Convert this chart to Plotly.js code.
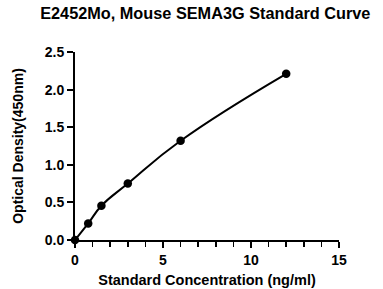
<!DOCTYPE html>
<html><head><meta charset="utf-8">
<script src="https://cdn.plot.ly/plotly-3.0.1.min.js"></script>
<style>html,body{margin:0;padding:0;background:#fff}#c{width:383px;height:289px}</style>
</head><body><div id="c"></div>
<script>
var concentration = [0, 0.75, 1.5, 3, 6, 12];
var od = [0.0, 0.22, 0.455, 0.75, 1.32, 2.21];
var xTicks = [0, 5, 10, 15];
var yTicks = [0, 0.5, 1.0, 1.5, 2.0, 2.5];
var yTickText = ['0.0', '0.5', '1.0', '1.5', '2.0', '2.5'];
var F = 'Liberation Sans, Arial, sans-serif';
var traces = [
  {x: concentration, y: od, mode: 'lines', line: {shape: 'spline', smoothing: 1.3, color: '#000', width: 2}, hoverinfo: 'skip', cliponaxis: false},
  {x: concentration, y: od, mode: 'markers', marker: {color: '#000', size: 8.5}, cliponaxis: false}
];
var layout = {
  width: 383, height: 289,
  margin: {l: 75, r: 44, t: 52, b: 49},
  showlegend: false,
  paper_bgcolor: '#fff', plot_bgcolor: '#fff',
  title: {text: '<b>E2452Mo, Mouse SEMA3G Standard Curve</b>', font: {family: F, size: 16.3, color: '#000'}, x: 0.536, xanchor: 'center', y: 0.975, yanchor: 'top'},
  xaxis: {range: [0, 15], tickvals: xTicks, ticktext: xTicks.map(String), ticks: 'outside', ticklen: 6, tickwidth: 2, tickcolor: '#000',
    showline: true, linecolor: '#000', linewidth: 2, showgrid: false, zeroline: false,
    minor: {dtick: 1, ticks: 'outside', ticklen: 5, tickwidth: 1.6, tickcolor: '#000'},
    tickfont: {family: F, size: 14, color: '#000', weight: 'bold'},
    title: {text: '<b>Standard Concentration (ng/ml)</b>', font: {family: F, size: 14.5, color: '#000'}, standoff: 8}},
  yaxis: {range: [0, 2.5], tickvals: yTicks, ticktext: yTickText, ticks: 'outside', ticklen: 6, tickwidth: 2, tickcolor: '#000',
    showline: true, linecolor: '#000', linewidth: 2, showgrid: false, zeroline: false,
    tickfont: {family: F, size: 14, color: '#000', weight: 'bold'},
    title: {text: '<b>Optical Density(450nm)</b>', font: {family: F, size: 14, color: '#000'}, standoff: 18}}
};
Plotly.newPlot('c', traces, layout, {displayModeBar: false, staticPlot: true});
</script></body></html>
